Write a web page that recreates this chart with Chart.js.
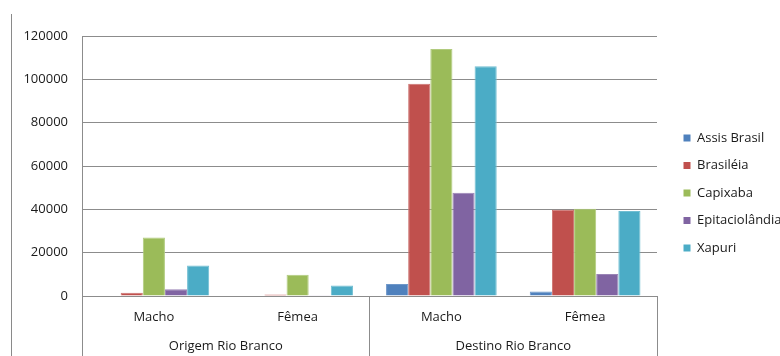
<!DOCTYPE html>
<html>
<head>
<meta charset="utf-8">
<script src="https://cdn.jsdelivr.net/npm/chart.js@4/dist/chart.umd.min.js"></script>
<style>
  html, body { margin: 0; padding: 0; background: #ffffff; }
  #wrap { position: relative; width: 780px; height: 356px; }
  #frame { position: absolute; left: 11px; top: 14px; width: 0; height: 342px; border-left: 1px solid #8a8a8a; }
  canvas { position: absolute; left: 0; top: 0; }
</style>
</head>
<body>
<div id="wrap">
  <canvas id="c" width="780" height="356"></canvas>
  <div id="frame"></div>
</div>
<script>
// ---- data ----
const categories = ['Macho', 'Fêmea', 'Macho', 'Fêmea'];
const groups = ['Origem Rio Branco', 'Destino Rio Branco'];
const seriesNames = ['Assis Brasil', 'Brasiléia', 'Capixaba', 'Epitaciolândia', 'Xapuri'];
const assisBrasil    = [0,     0,    5500,   2100];
const brasileia      = [1500,  700,  98000,  39800];
const capixaba       = [27000, 9800, 114000, 40300];
const epitaciolandia = [3100,  400,  47700,  10100];
const xapuri         = [14100, 4900, 106000, 39200];
const yTicks = [0, 20000, 40000, 60000, 80000, 100000, 120000];

// ---- styles ----
const fills   = ['#4F81BD', '#C0504D', '#9BBB59', '#8064A2', '#4BACC6'];
const borders = ['#6E97C9', '#CD7370', '#B1CB7E', '#9A84B6', '#70BED2'];
const values = [assisBrasil, brasileia, capixaba, epitaciolandia, xapuri];
const gridColor = '#8c8c8c';
const textColor = '#1a1a1a';
const font = { family: '"Open Sans", sans-serif', size: 13 };

const datasets = seriesNames.map((name, i) => ({
  label: name,
  data: values[i],
  backgroundColor: fills[i],
  borderColor: borders[i],
  borderWidth: 1,
  categoryPercentage: 0.77,
  barPercentage: 1.0,
  xAxisID: 'x',
  yAxisID: 'y'
}));

new Chart(document.getElementById('c'), {
  type: 'bar',
  data: { labels: categories, datasets },
  options: {
    responsive: false,
    animation: false,
    devicePixelRatio: 1,
    layout: { padding: { top: 36, left: 0, right: 0, bottom: 0 } },
    plugins: {
      tooltip: { enabled: false },
      legend: {
        position: 'right',
        align: 'start',
        maxWidth: 111,
        title: { display: true, text: '', font: { size: 10 }, padding: { top: 69, bottom: 0 } },
        labels: {
          boxWidth: 7,
          boxHeight: 7,
          padding: 14.5,
          color: textColor,
          font: font,
          generateLabels(chart) {
            return chart.data.datasets.map((ds, i) => ({
              text: ds.label,
              fillStyle: ds.backgroundColor,
              strokeStyle: ds.backgroundColor,
              lineWidth: 0,
              fontColor: textColor,
              datasetIndex: i,
              hidden: false
            }));
          }
        }
      }
    },
    scales: {
      y: {
        position: 'left',
        min: 0,
        max: 120000,
        afterBuildTicks(scale) { scale.ticks = yTicks.map(v => ({ value: v })); },
        afterFit(scale) { scale.width = 82; },
        ticks: { font: font, color: textColor, padding: 14, callback: (v) => String(v) },
        grid: { color: gridColor, drawTicks: false, lineWidth: 1 },
        border: { display: true, color: gridColor, width: 1 }
      },
      yRight: {
        position: 'right',
        display: true,
        afterFit(scale) { scale.width = 12; },
        ticks: { display: false },
        grid: { display: false },
        border: { display: false }
      },
      x: {
        position: 'bottom',
        offset: true,
        afterFit(scale) { scale.height = 34; },
        ticks: { font: font, color: textColor, padding: -47, maxRotation: 0 },
        grid: {
          offset: true,
          drawOnChartArea: false,
          drawTicks: true,
          tickLength: 60,
          color: (ctx) => (ctx.index === undefined || ctx.index % 2 === 0) ? gridColor : 'rgba(0,0,0,0)'
        },
        border: { display: true, color: gridColor, width: 1 }
      },
      x2: {
        type: 'category',
        position: 'bottom',
        labels: groups,
        offset: true,
        afterFit(scale) { scale.height = 26; },
        ticks: { font: font, color: textColor, padding: 0, maxRotation: 0 },
        grid: { display: false },
        border: { display: false }
      }
    }
  }
});
</script>
</body>
</html>
